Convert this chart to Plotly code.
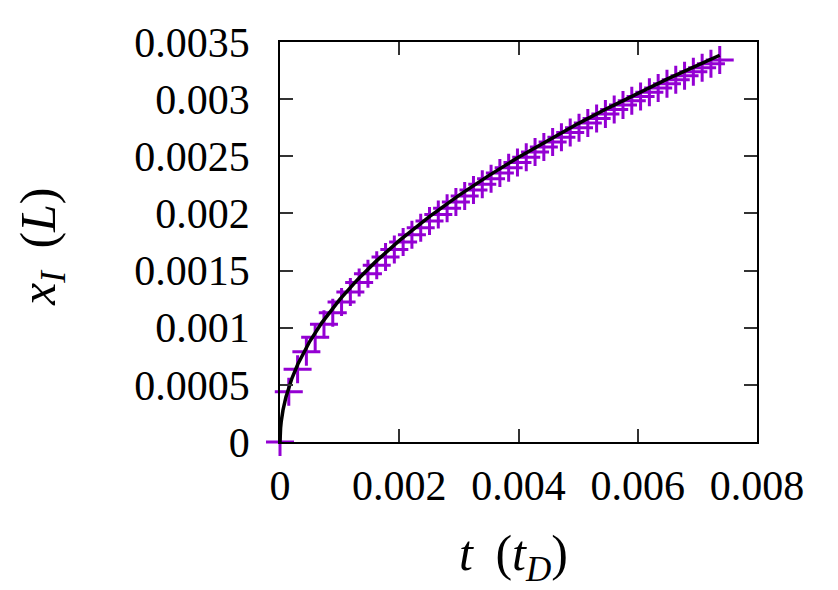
import plotly.graph_objects as go

# Simulation data
t_data = [0.0, 0.0001475, 0.000295, 0.0004425, 0.00059, 0.0007375, 0.000885, 0.0010325,
          0.00118, 0.0013275, 0.001475, 0.0016225, 0.00177, 0.0019175, 0.002065, 0.0022125,
          0.00236, 0.0025075, 0.002655, 0.0028025, 0.00295, 0.0030975, 0.003245, 0.0033925,
          0.00354, 0.0036875, 0.003835, 0.0039825, 0.00413, 0.0042775, 0.004425, 0.0045725,
          0.00472, 0.0048675, 0.005015, 0.0051625, 0.00531, 0.0054575, 0.005605, 0.0057525,
          0.0059, 0.0060475, 0.006195, 0.0063425, 0.00649, 0.0066375, 0.006785, 0.0069325,
          0.00708, 0.0072275, 0.007375]
x_data = [0.0, 0.000439, 0.000637, 0.000789, 0.000917, 0.001030, 0.001132, 0.001226,
          0.001313, 0.001396, 0.001473, 0.001547, 0.001618, 0.001685, 0.001750, 0.001813,
          0.001874, 0.001933, 0.001990, 0.002046, 0.002100, 0.002153, 0.002204, 0.002255,
          0.002304, 0.002353, 0.002400, 0.002446, 0.002492, 0.002537, 0.002581, 0.002624,
          0.002667, 0.002709, 0.002750, 0.002791, 0.002831, 0.002871, 0.002910, 0.002948,
          0.002986, 0.003024, 0.003061, 0.003098, 0.003134, 0.003170, 0.003205, 0.003240,
          0.003275, 0.003309, 0.003343]

# Fit curve
t_fit = [0.0, 0.000001, 0.000005, 0.00001, 0.00002, 0.00003, 0.00005, 0.0001, 0.0002,
         0.0003, 0.0005, 0.0007, 0.001, 0.0013, 0.0016, 0.002, 0.0025, 0.003, 0.0035,
         0.004, 0.0045, 0.005, 0.0055, 0.006, 0.0065, 0.007, 0.007375]
x_fit = [0.0, 0.0000394, 0.0000881, 0.0001246, 0.0001762, 0.0002158, 0.0002786, 0.000394,
         0.0005572, 0.0006824, 0.000881, 0.0010424, 0.001246, 0.0014206, 0.001576, 0.001762,
         0.00197, 0.002158, 0.002331, 0.002492, 0.002643, 0.002786, 0.002922, 0.003052,
         0.003177, 0.003296, 0.003384]

x_tickvals = [0, 0.002, 0.004, 0.006, 0.008]
x_ticktext = ["0", "0.002", "0.004", "0.006", "0.008"]
y_tickvals = [0, 0.0005, 0.001, 0.0015, 0.002, 0.0025, 0.003, 0.0035]
y_ticktext = ["0", "0.0005", "0.001", "0.0015", "0.002", "0.0025", "0.003", "0.0035"]

FONT = "Liberation Serif"

fig = go.Figure()
fig.add_trace(go.Scatter(
    x=t_data, y=x_data, mode="markers",
    marker=dict(symbol="cross-thin", size=20, line=dict(width=3, color="#9400D3"), color="#9400D3"),
    cliponaxis=False, showlegend=False))
fig.add_trace(go.Scatter(
    x=t_fit, y=x_fit, mode="lines",
    line=dict(color="black", width=3.5), showlegend=False))

axis_common = dict(showline=True, mirror="ticks", linecolor="black", linewidth=1.5,
                   ticks="inside", ticklen=13, tickwidth=1.5, tickcolor="#333333",
                   showgrid=False, zeroline=False, automargin=False,
                   tickfont=dict(family=FONT, size=42, color="black"))

fig.update_xaxes(range=[0, 0.008], tickvals=x_tickvals, ticktext=x_ticktext,
                 ticklabelstandoff=6, **axis_common)
fig.update_yaxes(range=[0, 0.0035], tickvals=y_tickvals, ticktext=y_ticktext,
                 ticklabelstandoff=20, **axis_common)

fig.update_layout(
    width=830, height=582,
    margin=dict(l=272, r=81, t=34, b=148),
    paper_bgcolor="white", plot_bgcolor="white",
    annotations=[
        dict(text="<i>t</i>\u2009 (<i>t</i><sub><i>D</i></sub>)", xref="paper", yref="paper",
             x=0.49, y=-0.2875, xanchor="center", yanchor="middle", showarrow=False,
             font=dict(family=FONT, size=50, color="black")),
        dict(text="<i>x</i><sub><i>I</i></sub>\u2009 (<i>L</i>)", xref="paper", yref="paper",
             x=-0.499, y=0.49, xanchor="center", yanchor="middle", showarrow=False,
             textangle=-90, font=dict(family=FONT, size=50, color="black")),
    ],
)

fig.write_html("out.html")
